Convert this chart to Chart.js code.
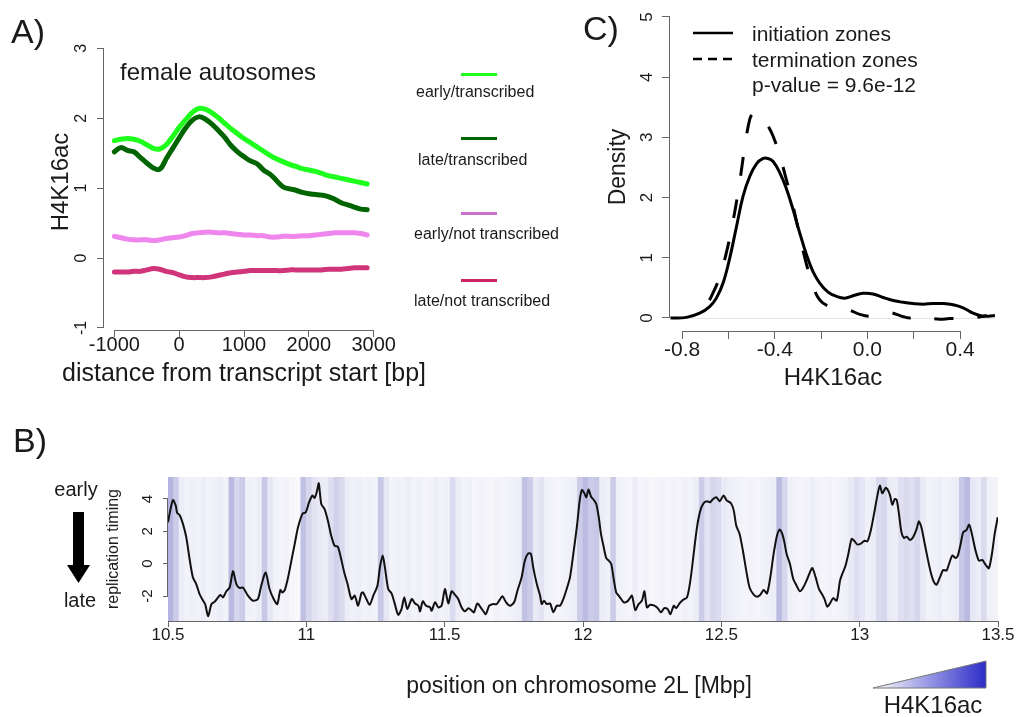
<!DOCTYPE html>
<html>
<head>
<meta charset="utf-8">
<script src="https://cdn.jsdelivr.net/npm/chart.js@4.4.0/dist/chart.umd.min.js"></script>
<style>
  body { margin: 0; background: #fff; }
  #page { position: relative; width: 1017px; height: 717px; overflow: hidden;
          font-family: "Liberation Sans", Arial, sans-serif; color: #1a1a1a; }
  canvas { position: absolute; left: 0; top: 0; }
  .t { position: absolute; white-space: nowrap; line-height: 1; }
  .c { transform: translate(-50%, -50%); }
  .l { transform: translate(0, -50%); }
  .r { transform: translate(-50%, -50%) rotate(-90deg); }
  .key { position: absolute; height: 3px; }
  svg { position: absolute; left: 0; top: 0; }
</style>
</head>
<body>
<div id="page">
  <canvas id="chartA" width="1017" height="717"></canvas>
  <canvas id="chartB" width="1017" height="717"></canvas>
  <canvas id="chartC" width="1017" height="717"></canvas>

  <svg width="1017" height="717">
    <defs>
      <linearGradient id="h4grad" x1="0" x2="1" y1="0" y2="0">
        <stop offset="0" stop-color="#ffffff"/>
        <stop offset="1" stop-color="#2c2cc8"/>
      </linearGradient>
    </defs>
    <!-- early -> late arrow -->
    <rect x="73" y="512" width="11" height="54" fill="#000"/>
    <polygon points="67,565 90,565 78.5,583" fill="#000"/>
    <!-- H4K16ac colour key -->
    <polygon points="873,688 986,688 986,661" fill="url(#h4grad)" stroke="#777" stroke-width="1"/>
    <!-- panel C legend lines -->
    <line x1="693" y1="33" x2="733" y2="33" stroke="#000" stroke-width="2.5"/>
    <line x1="693" y1="59" x2="733" y2="59" stroke="#000" stroke-width="2.5" stroke-dasharray="9,6"/>
  </svg>

  <!-- panel A text -->
  <div class="t c" style="left:28px;top:31px;font-size:34px;">A)</div>
  <div class="t l" style="left:120px;top:72px;font-size:24px;">female autosomes</div>
  <div class="t r" style="left:60px;top:182px;font-size:24px;">H4K16ac</div>
  <div class="t c" style="left:244px;top:372px;font-size:25px;">distance from transcript start [bp]</div>
  <div class="key" style="left:461px;top:73px;width:36px;background:#1eff1e;"></div>
  <div class="t l" style="left:416px;top:92px;font-size:16px;">early/transcribed</div>
  <div class="key" style="left:461px;top:137px;width:36px;background:#006400;"></div>
  <div class="t l" style="left:418px;top:160px;font-size:16px;">late/transcribed</div>
  <div class="key" style="left:461px;top:212px;width:36px;background:#cc70cc;"></div>
  <div class="t l" style="left:414px;top:234px;font-size:16px;">early/not transcribed</div>
  <div class="key" style="left:461px;top:279px;width:36px;background:#cc2266;"></div>
  <div class="t l" style="left:414px;top:301px;font-size:16px;">late/not transcribed</div>

  <!-- panel B text -->
  <div class="t c" style="left:30px;top:440px;font-size:34px;">B)</div>
  <div class="t c" style="left:76px;top:489px;font-size:20px;">early</div>
  <div class="t c" style="left:80px;top:600px;font-size:20px;">late</div>
  <div class="t r" style="left:113px;top:549px;font-size:16px;">replication timing</div>
  <div class="t c" style="left:579px;top:685px;font-size:23px;">position on chromosome 2L [Mbp]</div>
  <div class="t c" style="left:933px;top:705px;font-size:24px;">H4K16ac</div>

  <!-- panel C text -->
  <div class="t c" style="left:601px;top:28px;font-size:34px;">C)</div>
  <div class="t r" style="left:617px;top:167px;font-size:23px;">Density</div>
  <div class="t c" style="left:833px;top:377px;font-size:24px;">H4K16ac</div>
  <div class="t l" style="left:752px;top:33px;font-size:21px;">initiation zones</div>
  <div class="t l" style="left:752px;top:59px;font-size:21px;">termination zones</div>
  <div class="t l" style="left:752px;top:84px;font-size:21px;">p-value = 9.6e-12</div>
</div>

<script>
// ---------- panel A: H4K16ac around transcript start ----------
const distA = [-1000,-900,-800,-700,-600,-500,-400,-300,-200,-100,0,100,200,300,400,500,600,700,800,900,
  1000,1100,1200,1300,1400,1500,1600,1700,1800,1900,2000,2100,2200,2300,2400,2500,2600,2700,2800,2900];
const earlyTranscribed = [1.68,1.70,1.71,1.70,1.67,1.62,1.57,1.56,1.62,1.74,1.87,1.98,2.08,2.14,2.13,2.08,2.01,1.93,1.85,1.78,
  1.71,1.65,1.59,1.53,1.47,1.42,1.38,1.34,1.31,1.28,1.26,1.24,1.21,1.18,1.16,1.14,1.12,1.10,1.08,1.06];
const lateTranscribed = [1.52,1.58,1.54,1.52,1.44,1.36,1.29,1.27,1.42,1.57,1.72,1.86,1.97,2.02,1.99,1.92,1.83,1.73,1.61,1.52,
  1.45,1.39,1.35,1.26,1.20,1.11,1.02,0.99,0.97,0.94,0.92,0.91,0.90,0.88,0.84,0.79,0.76,0.73,0.70,0.69];
const earlyNotTranscribed = [0.31,0.29,0.27,0.26,0.26,0.26,0.25,0.26,0.28,0.29,0.30,0.32,0.35,0.36,0.37,0.37,0.36,0.36,0.35,0.34,
  0.33,0.33,0.32,0.32,0.30,0.30,0.31,0.31,0.31,0.32,0.32,0.33,0.34,0.35,0.36,0.36,0.36,0.36,0.35,0.33];
const lateNotTranscribed = [-0.20,-0.20,-0.20,-0.19,-0.19,-0.17,-0.15,-0.16,-0.19,-0.21,-0.24,-0.27,-0.28,-0.28,-0.28,-0.27,-0.25,-0.23,-0.21,-0.20,
  -0.19,-0.18,-0.18,-0.18,-0.18,-0.18,-0.18,-0.17,-0.17,-0.17,-0.17,-0.17,-0.17,-0.16,-0.16,-0.16,-0.15,-0.14,-0.14,-0.14];
const xTicksA = [-1000, 0, 1000, 2000, 3000];
const xLabelsA = ['-1000', '0', '1000', '2000', '3000'];
const yTicksA = [-1, 0, 1, 2, 3];
const yLabelsA = ['-1', '0', '1', '2', '3'];

// ---------- panel B: replication timing + H4K16ac track, chr 2L ----------
const heatStart = 10.5, heatStep = 0.02;   // 20 kb bins
const heatBins = [0.9,0.7,0.3,0.2,0.25,0.2,0.3,0.2,0.25,0.3,0.2,0.85,0.6,0.7,0.25,0.2,0.3,0.75,0.4,0.2,
  0.15,0.2,0.1,0.0,0.8,0.6,0.45,0.35,0.3,0.5,0.65,0.55,0.3,0.25,0.3,0.2,0.25,0.2,0.75,0.4,
  0.2,0.25,0.2,0.3,0.2,0.25,0.15,0.2,0.3,0.2,0.25,0.55,0.3,0.2,0.25,0.15,0.2,0.15,0.1,0.2,
  0.15,0.2,0.25,0.3,0.8,0.7,0.35,0.45,0.25,0.2,0.15,0.2,0.25,0.3,0.7,0.85,0.7,0.75,0.3,0.25,
  0.7,0.25,0.2,0.15,0.3,0.15,0.2,0.1,0.15,0.2,0.15,0.2,0.15,0.25,0.2,0.3,0.7,0.45,0.6,0.55,
  0.35,0.3,0.25,0.2,0.15,0.2,0.15,0.2,0.25,0.3,0.85,0.6,0.25,0.2,0.15,0.2,0.3,0.2,0.15,0.2,
  0.15,0.2,0.25,0.35,0.5,0.4,0.25,0.3,0.55,0.6,0.35,0.3,0.5,0.55,0.5,0.6,0.35,0.2,0.25,0.3,
  0.2,0.25,0.3,0.75,0.85,0.4,0.3,0.55,0.25,0.2];
const timingPos = [10.500,10.508,10.518,10.528,10.533,10.542,10.554,10.566,10.578,10.590,10.602,10.614,10.627,10.635,10.645,10.657,10.669,10.681,10.689,10.699,
  10.711,10.723,10.735,10.747,10.759,10.771,10.789,10.807,10.825,10.837,10.853,10.867,10.882,10.895,10.906,10.913,10.922,10.934,10.946,10.958,
  10.970,10.986,10.998,11.010,11.022,11.030,11.039,11.045,11.054,11.066,11.078,11.090,11.102,11.114,11.125,11.137,11.149,11.163,11.175,11.187,
  11.199,11.205,11.217,11.229,11.242,11.257,11.266,11.276,11.284,11.296,11.308,11.320,11.332,11.344,11.354,11.365,11.381,11.393,11.405,11.411,
  11.421,11.433,11.447,11.453,11.465,11.477,11.489,11.501,11.513,11.525,11.537,11.549,11.561,11.573,11.586,11.598,11.606,11.618,11.630,11.640,
  11.649,11.661,11.676,11.688,11.697,11.709,11.722,11.736,11.751,11.763,11.778,11.790,11.802,11.812,11.820,11.833,11.845,11.851,11.859,11.869,
  11.881,11.893,11.905,11.917,11.929,11.941,11.953,11.965,11.978,11.988,11.996,12.005,12.012,12.020,12.029,12.039,12.048,12.057,12.065,12.075,
  12.084,12.093,12.102,12.111,12.120,12.129,12.138,12.147,12.159,12.167,12.177,12.189,12.201,12.213,12.222,12.231,12.243,12.258,12.270,12.282,
  12.294,12.306,12.316,12.328,12.337,12.349,12.361,12.376,12.388,12.400,12.412,12.424,12.436,12.448,12.460,12.470,12.482,12.494,12.508,12.520,
  12.535,12.545,12.554,12.566,12.578,12.590,12.602,12.617,12.629,12.641,12.653,12.665,12.677,12.689,12.701,12.711,12.719,12.727,12.736,12.748,
  12.760,12.772,12.784,12.796,12.808,12.820,12.829,12.841,12.853,12.865,12.873,12.883,12.895,12.904,12.917,12.929,12.937,12.949,12.959,12.971,
  12.980,12.992,13.006,13.018,13.028,13.040,13.052,13.064,13.073,13.082,13.094,13.102,13.110,13.118,13.127,13.134,13.142,13.151,13.160,13.170,
  13.182,13.194,13.206,13.214,13.223,13.233,13.245,13.257,13.269,13.278,13.290,13.302,13.314,13.323,13.335,13.347,13.355,13.365,13.374,13.386,
  13.396,13.407,13.419,13.431,13.443,13.455,13.467,13.478,13.488,13.499];
const timingVal = [2.56,3.28,3.94,3.59,3.14,3.01,2.46,1.63,0.29,-0.85,-1.26,-1.88,-2.29,-2.54,-3.26,-2.50,-2.35,-2.08,-1.94,-2.08,
  -1.71,-1.47,-0.47,-1.26,-1.51,-1.47,-1.98,-2.29,-2.19,-1.36,-0.54,-1.57,-2.19,-2.50,-1.63,-1.78,-1.63,-0.85,0.19,1.22,
  2.25,3.08,3.18,3.80,4.21,4.07,4.52,4.97,3.69,3.38,2.66,1.73,1.11,1.05,0.35,-0.54,-1.26,-2.19,-1.98,-2.60,
  -1.84,-1.78,-2.19,-2.54,-1.98,-1.36,-0.23,0.50,-0.23,-1.57,-1.84,-2.50,-3.16,-2.81,-2.08,-2.81,-2.19,-2.46,-2.60,-2.95,
  -2.33,-2.60,-2.70,-2.91,-2.39,-2.70,-2.60,-1.57,-2.46,-1.71,-1.92,-2.19,-2.70,-2.95,-2.75,-2.91,-3.01,-2.46,-2.70,-2.95,
  -3.12,-2.60,-2.50,-2.50,-2.29,-2.02,-2.39,-2.60,-2.39,-1.67,-0.85,0.19,0.64,0.60,-0.23,-1.26,-1.98,-2.50,-2.29,-2.50,
  -2.46,-3.01,-2.60,-2.60,-2.19,-1.57,-0.85,0.60,2.30,3.90,4.56,4.35,4.11,4.58,4.15,3.94,3.69,2.87,1.84,1.01,
  0.35,0.19,-0.02,-0.95,-1.78,-1.98,-2.19,-2.39,-2.35,-2.19,-1.98,-2.87,-2.50,-2.29,-1.71,-2.70,-2.54,-2.60,-2.75,-3.01,
  -2.75,-2.81,-3.12,-2.60,-2.75,-2.46,-2.25,-2.08,-1.05,0.60,2.25,3.28,3.74,3.86,3.80,4.00,4.11,3.86,4.21,3.90,
  3.74,3.28,2.35,1.84,0.80,-0.43,-1.47,-1.92,-2.04,-1.92,-1.63,-1.84,-0.85,0.60,1.73,2.11,1.90,1.40,0.60,-0.02,
  -0.95,-1.36,-1.71,-1.47,-1.05,-0.54,-0.27,-0.85,-1.57,-1.92,-2.19,-2.66,-2.39,-2.13,-2.29,-1.05,-0.64,-0.12,0.60,1.53,
  1.42,1.18,1.26,1.42,1.38,2.04,3.08,4.21,4.83,4.35,4.69,4.56,4.21,3.65,4.00,3.94,3.08,1.94,1.59,1.67,
  1.47,1.67,2.15,2.62,2.25,1.42,0.39,-0.54,-1.16,-1.30,-0.85,-0.39,-0.43,-0.02,0.50,0.35,0.50,1.22,1.94,2.08,
  2.41,1.73,0.80,0.19,0.23,-0.06,-0.29,0.60,1.84,2.87];
const xTicksB = [10.5, 11, 11.5, 12, 12.5, 13, 13.5];
const xLabelsB = ['10.5', '11', '11.5', '12', '12.5', '13', '13.5'];
const yTicksB = [-2, 0, 2, 4];
const yLabelsB = ['-2', '0', '2', '4'];

// ---------- panel C: density of H4K16ac in initiation / termination zones ----------
const initX = [-0.850,-0.781,-0.724,-0.681,-0.652,-0.623,-0.594,-0.565,-0.537,-0.508,-0.479,-0.450,-0.429,-0.407,-0.378,-0.350,-0.321,-0.292,-0.263,-0.235,
  -0.206,-0.170,-0.134,-0.098,-0.062,-0.019,0.024,0.068,0.111,0.154,0.197,0.240,0.283,0.327,0.370,0.413,0.456,0.499,0.550];
const initDensity = [0.00,0.01,0.08,0.19,0.33,0.58,1.00,1.52,2.02,2.35,2.56,2.65,2.65,2.60,2.41,2.15,1.80,1.41,1.05,0.77,
  0.58,0.43,0.36,0.33,0.37,0.41,0.40,0.34,0.29,0.26,0.24,0.23,0.24,0.24,0.22,0.17,0.08,0.03,0.04];
const termX = [-0.760,-0.720,-0.690,-0.666,-0.637,-0.609,-0.580,-0.554,-0.529,-0.508,-0.494,-0.472,-0.450,-0.429,-0.407,-0.378,-0.350,-0.321,-0.292,-0.263,
  -0.235,-0.206,-0.170,-0.119,-0.076,-0.033,0.010,0.053,0.096,0.140,0.183,0.226,0.269,0.312,0.355,0.413,0.456,0.514];
const termDensity = [0.13,0.18,0.26,0.42,0.69,1.08,1.61,2.19,2.85,3.30,3.39,3.40,3.32,3.19,3.02,2.69,2.30,1.86,1.36,0.89,
  0.53,0.30,0.20,0.17,0.13,0.06,0.03,0.07,0.09,0.04,0.00,0.03,0.00,-0.02,-0.01,-0.01,0.00,0.04];
const xTicksC = [-0.8, -0.6, -0.4, -0.2, 0, 0.2, 0.4];
const xLabelsC = ['-0.8', '', '-0.4', '', '0.0', '', '0.4'];
const yTicksC = [0, 1, 2, 3, 4, 5];
const yLabelsC = ['0', '1', '2', '3', '4', '5'];

const FONT = '"Liberation Sans", Arial, sans-serif';
const AXIS = '#666';

// R-style axes: lines only between first and last tick, rotated y labels
const rAxes = {
  id: 'rAxes',
  beforeDatasetsDraw(chart, args, o) {
    if (!o.zeroLine) return;
    const { ctx, chartArea } = chart;
    const y0 = Math.round(chart.scales.y.getPixelForValue(0)) + 0.5;
    ctx.save();
    ctx.strokeStyle = '#e4e4e4';
    ctx.lineWidth = 1;
    ctx.beginPath();
    ctx.moveTo(chartArea.left + 1, y0);
    ctx.lineTo(chartArea.right - 2, y0);
    ctx.stroke();
    ctx.restore();
  },
  afterDraw(chart, args, o) {
    const { ctx, chartArea } = chart;
    const xs = chart.scales.x, ys = chart.scales.y;
    ctx.save();
    ctx.strokeStyle = AXIS;
    ctx.lineWidth = 1;
    ctx.beginPath();
    const xb = Math.round(chartArea.bottom) + 0.5;
    ctx.moveTo(xs.getPixelForValue(o.xTicks[0]), xb);
    ctx.lineTo(xs.getPixelForValue(o.xTicks[o.xTicks.length - 1]), xb);
    const yl = Math.round(chartArea.left) - 0.5;
    ctx.moveTo(yl, ys.getPixelForValue(o.yTicks[0]));
    ctx.lineTo(yl, ys.getPixelForValue(o.yTicks[o.yTicks.length - 1]));
    ctx.stroke();

    ctx.fillStyle = '#1a1a1a';
    ctx.textAlign = 'center';
    ctx.textBaseline = 'middle';
    ctx.font = o.xFont + 'px ' + FONT;
    xs.ticks.forEach((t, i) => {
      ctx.fillText(o.xLabels[i], xs.getPixelForValue(t.value), chartArea.bottom + o.xGap);
    });
    ctx.font = o.yFont + 'px ' + FONT;
    ys.ticks.forEach((t, i) => {
      ctx.save();
      ctx.translate(chartArea.left - o.yGap, ys.getPixelForValue(t.value));
      ctx.rotate(-Math.PI / 2);
      ctx.fillText(o.yLabels[i], 0, 0);
      ctx.restore();
    });
    ctx.restore();
  }
};

function axisX(min, max, ticks, tickLen) {
  return {
    type: 'linear', min, max, offset: false,
    afterBuildTicks: s => { s.ticks = ticks.map(v => ({ value: v })); },
    afterFit: s => { s.height = 0; },
    ticks: { display: false },
    grid: { drawOnChartArea: false, tickLength: tickLen, color: AXIS, offset: false },
    border: { display: false }
  };
}
function axisY(min, max, ticks, tickLen) {
  return {
    type: 'linear', min, max,
    afterBuildTicks: s => { s.ticks = ticks.map(v => ({ value: v })); },
    afterFit: s => { s.width = 0; },
    ticks: { display: false },
    grid: { drawOnChartArea: false, tickLength: tickLen, color: AXIS },
    border: { display: false }
  };
}
// chart area placed at [left, top, right, bottom] on the page
function pad(l, t, r, b) { return { left: l, top: t, right: 1017 - r, bottom: 717 - b }; }
const pts = (xs, ys) => xs.map((x, i) => ({ x, y: ys[i] }));

// panel A
const seriesA = [
  { values: earlyTranscribed, color: '#1eff1e' },
  { values: lateTranscribed, color: '#006400' },
  { values: earlyNotTranscribed, color: '#ee86ee' },
  { values: lateNotTranscribed, color: '#d0357a' }
];
new Chart(document.getElementById('chartA'), {
  type: 'line',
  data: {
    datasets: seriesA.map(s => ({
      data: pts(distA, s.values), borderColor: s.color, borderWidth: 5,
      pointRadius: 0, tension: 0.4, borderCapStyle: 'round', borderJoinStyle: 'round'
    }))
  },
  options: {
    responsive: false, animation: false, events: [],
    layout: { padding: pad(104, 40, 384, 330) },
    plugins: {
      legend: { display: false }, tooltip: { enabled: false },
      rAxes: { xTicks: xTicksA, xLabels: xLabelsA, yTicks: yTicksA, yLabels: yLabelsA,
               xFont: 20, yFont: 16, xGap: 15, yGap: 22 }
    },
    scales: { x: axisX(-1160, 3160, xTicksA, 7), y: axisY(-1.03, 3.12, yTicksA, 7) }
  },
  plugins: [rAxes]
});

// panel B
const yMinB = -3.546, yMaxB = 5.36;
function heatColor(v) {
  const a = 0.03 + 0.12 * v + 0.3 * v * v;
  const r = Math.round(255 - a * 195), b = Math.round(255 - a * 85);
  return `rgb(${r},${r},${b})`;
}
new Chart(document.getElementById('chartB'), {
  type: 'bar',
  data: {
    datasets: [
      {
        type: 'line', order: 0,
        data: pts(timingPos, timingVal), borderColor: '#111', borderWidth: 2,
        pointRadius: 0, tension: 0.25, borderJoinStyle: 'round'
      },
      {
        type: 'bar', order: 1,
        data: heatBins.map((v, i) => ({ x: heatStart + heatStep * (i + 0.5), y: [yMinB, yMaxB] })),
        backgroundColor: heatBins.map(heatColor), borderWidth: 0,
        barPercentage: 1, categoryPercentage: 1
      }
    ]
  },
  options: {
    responsive: false, animation: false, events: [],
    layout: { padding: pad(168, 477, 998, 621) },
    plugins: {
      legend: { display: false }, tooltip: { enabled: false },
      rAxes: { xTicks: xTicksB, xLabels: xLabelsB, yTicks: yTicksB, yLabels: yLabelsB,
               xFont: 17, yFont: 15, xGap: 14, yGap: 20 }
    },
    scales: { x: axisX(10.5, 13.5, xTicksB, 6), y: axisY(yMinB, yMaxB, yTicksB, 5) }
  },
  plugins: [rAxes]
});

// panel C
new Chart(document.getElementById('chartC'), {
  type: 'line',
  data: {
    datasets: [
      { data: pts(initX, initDensity), borderColor: '#000', borderWidth: 3,
        pointRadius: 0, tension: 0.4 },
      { data: pts(termX, termDensity), borderColor: '#000', borderWidth: 3,
        pointRadius: 0, tension: 0.4, borderDash: [19, 24], borderDashOffset: 22 }
    ]
  },
  options: {
    responsive: false, animation: false, events: [],
    layout: { padding: pad(670, 10, 997, 331) },
    plugins: {
      legend: { display: false }, tooltip: { enabled: false },
      rAxes: { xTicks: xTicksC, xLabels: xLabelsC, yTicks: yTicksC, yLabels: yLabelsC,
               xFont: 21, yFont: 17, xGap: 19, yGap: 23, zeroLine: true }
    },
    scales: { x: axisX(-0.852, 0.559, xTicksC, 8), y: axisY(-0.216, 5.116, yTicksC, 8) }
  },
  plugins: [rAxes]
});
</script>
</body>
</html>
